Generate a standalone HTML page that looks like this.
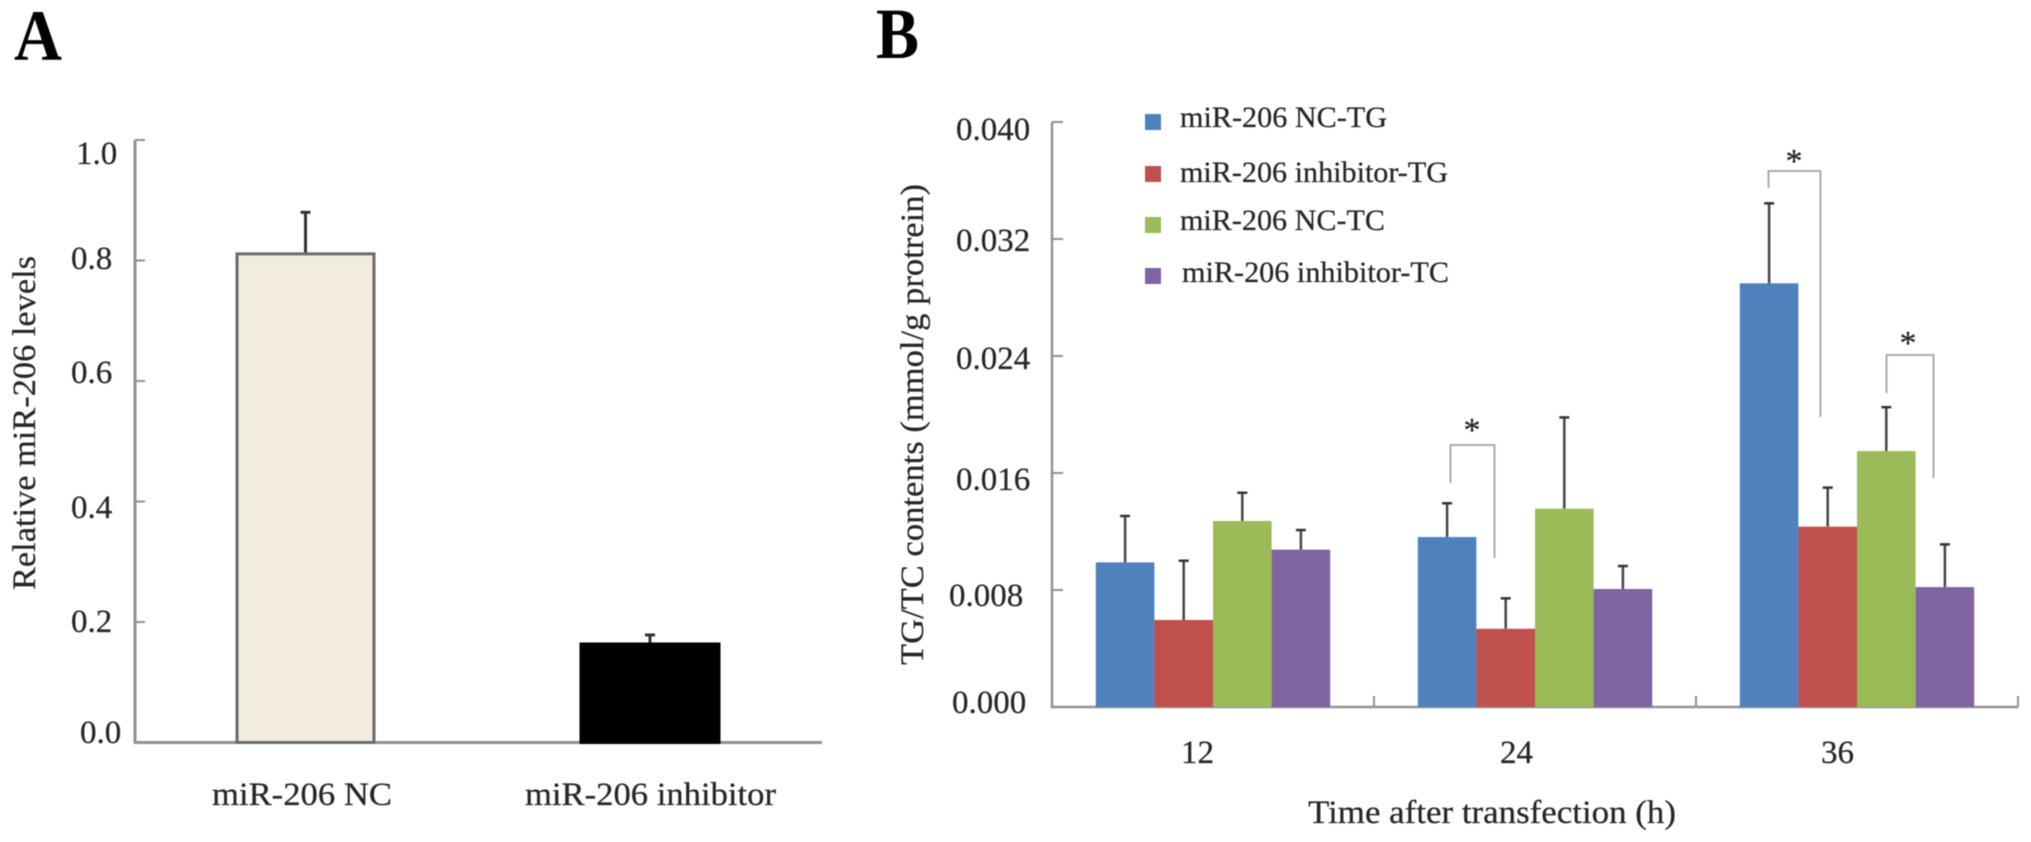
<!DOCTYPE html>
<html lang="en">
<head>
<meta charset="utf-8">
<title>miR-206 levels and TG/TC contents</title>
<style>
  html, body { margin: 0; padding: 0; background: #fff; }
  body { width: 2031px; height: 842px; overflow: hidden; }
  svg { display: block; }
  text { font-family: "Liberation Serif", serif; font-size: 33px; fill: #262626; stroke: #262626; stroke-width: 0.25px; }
  .soft { filter: blur(0.45px); }
</style>
</head>
<body>
<svg id="figure" xmlns="http://www.w3.org/2000/svg" width="2031" height="842" viewBox="0 0 2031 842">
  <g class="soft">
    <text x="14" y="60" textLength="48" lengthAdjust="spacingAndGlyphs" style="font-size:72px;font-weight:bold;fill:#000;stroke:none">A</text>
    <text x="876" y="58" textLength="43" lengthAdjust="spacingAndGlyphs" style="font-size:72px;font-weight:bold;fill:#000;stroke:none">B</text>

    <text x="76" y="164">1.0</text>
    <text x="71" y="269">0.8</text>
    <text x="71" y="383">0.6</text>
    <text x="71" y="518">0.4</text>
    <text x="71" y="632">0.2</text>
    <text x="80" y="743">0.0</text>
    <text transform="translate(35,590) rotate(-90)" x="0" y="0" textLength="334" lengthAdjust="spacingAndGlyphs">Relative miR-206 levels</text>
    <text x="212" y="805" textLength="180" lengthAdjust="spacingAndGlyphs">miR-206 NC</text>
    <text x="525" y="805" textLength="251" lengthAdjust="spacingAndGlyphs">miR-206 inhibitor</text>

    <text x="956" y="140">0.040</text>
    <text x="956" y="251">0.032</text>
    <text x="956" y="369">0.024</text>
    <text x="956" y="490">0.016</text>
    <text x="949" y="606">0.008</text>
    <text x="952" y="713">0.000</text>
    <text transform="translate(923,665) rotate(-90)" x="0" y="0" textLength="481" lengthAdjust="spacingAndGlyphs">TG/TC contents (mmol/g protrein)</text>
    <text x="1181" y="763">12</text>
    <text x="1500" y="763">24</text>
    <text x="1821" y="763">36</text>
    <text x="1308" y="823" textLength="368" lengthAdjust="spacingAndGlyphs">Time after transfection (h)</text>

    <rect x="1145" y="114" width="16" height="16" fill="#4f81bd"/>
    <text x="1180" y="127" textLength="207" lengthAdjust="spacingAndGlyphs" style="font-size:30px">miR-206 NC-TG</text>
    <rect x="1145" y="166" width="16" height="16" fill="#c0504d"/>
    <text x="1180" y="182" textLength="268" lengthAdjust="spacingAndGlyphs" style="font-size:30px">miR-206 inhibitor-TG</text>
    <rect x="1145" y="217" width="16" height="16" fill="#9bbb59"/>
    <text x="1180" y="230" textLength="205" lengthAdjust="spacingAndGlyphs" style="font-size:30px">miR-206 NC-TC</text>
    <rect x="1145" y="268" width="16" height="16" fill="#8064a2"/>
    <text x="1182" y="282" textLength="267" lengthAdjust="spacingAndGlyphs" style="font-size:30px">miR-206 inhibitor-TC</text>

    <polyline points="1450.5,483 1450.5,445 1494.5,445 1494.5,558" fill="none" stroke="#ababab" stroke-width="2"/>
    <text x="1472" y="441" text-anchor="middle" style="font-size:34px">*</text>
    <polyline points="1768.5,188 1768.5,171 1820.5,171 1820.5,417" fill="none" stroke="#ababab" stroke-width="2"/>
    <text x="1794" y="172" text-anchor="middle" style="font-size:34px">*</text>
    <polyline points="1886.5,393 1886.5,355 1933.5,355 1933.5,478" fill="none" stroke="#ababab" stroke-width="2"/>
    <text x="1908" y="354" text-anchor="middle" style="font-size:34px">*</text>
  </g>
  <g id="marks" class="soft"></g>
</svg>

<script>
/* Panel A data */
const panelACategories = ['miR-206 NC', 'miR-206 inhibitor'];
const panelAValues = [0.811, 0.1635];
const panelAErrors = [0.069, 0.015];
const panelATicks = [0, 0.2, 0.4, 0.6, 0.8, 1.0];

/* Panel B data */
const panelBCategories = ['12', '24', '36'];
const ncTG = [0.00989, 0.01162, 0.02897];
const inhibitorTG = [0.00595, 0.00535, 0.01233];
const ncTC = [0.01272, 0.01356, 0.0175];
const inhibitorTC = [0.01076, 0.00807, 0.0082];
const ncTGErr = [0.00317, 0.00231, 0.00547];
const inhibitorTGErr = [0.00405, 0.00208, 0.00267];
const ncTCErr = [0.00193, 0.00624, 0.003];
const inhibitorTCErr = [0.00134, 0.00157, 0.00292];
const panelBTicks = [0, 0.008, 0.016, 0.024, 0.032, 0.04];

const marks = document.getElementById('marks');
const NS = 'http://www.w3.org/2000/svg';

function shape(tag, props) {
  const el = document.createElementNS(NS, tag);
  for (const k in props) el.setAttribute(k, props[k]);
  marks.appendChild(el);
  return el;
}
function line(x1, y1, x2, y2, stroke, width) {
  return shape('line', { x1: x1, y1: y1, x2: x2, y2: y2, stroke: stroke, 'stroke-width': width });
}

/* Axis functions */
const yA = v => 742.5 - v * 602.5;
const xA = i => 305.5 + i * 344.5;
const yB = v => 707 - v * 14625;
const xB = i => 1213 + i * 322;

const AXIS = '#929292';
const ERR = '#454545';

/* Panel A axes */
let el = line(135, yA(1), 135, yA(0) + 1, AXIS, 3);


el = line(134, yA(0), 822, yA(0), AXIS, 3);


panelATicks.forEach(function (t) {
  if (t === 0) return;
  const tick = line(135, yA(t), 145, yA(t), AXIS, 2);
  
  
});

/* Panel A bars */
const panelAFill = ['#f1ebe0', '#000000'];
const panelAStroke = ['#6b6b6b', '#000000'];
panelACategories.forEach(function (c, i) {
  const half = i === 0 ? 68.5 : 69;
  const errLine = line(xA(i), yA(panelAValues[i]), xA(i), yA(panelAValues[i] + panelAErrors[i]), '#333', 3);
  
  
  const cap = line(xA(i) - 5, yA(panelAValues[i] + panelAErrors[i]), xA(i) + 5, yA(panelAValues[i] + panelAErrors[i]), '#333', 3);
  
  
  const bar = shape('rect', {
    x: xA(i) - half, y: yA(panelAValues[i]), width: half * 2, height: yA(0) - yA(panelAValues[i]),
    fill: panelAFill[i], stroke: panelAStroke[i], 'stroke-width': 3
  });
  
  
});

/* Panel B axes */
el = line(1052, yB(0.04), 1052, yB(0) + 1, AXIS, 2.5);


el = line(1051, yB(0), 2018, yB(0), AXIS, 2.5);


panelBTicks.forEach(function (t) {
  if (t === 0) return;
  const tick = line(1052, yB(t), 1063, yB(t), AXIS, 2);
  
  
});
panelBCategories.forEach(function (c, i) {
  const divider = line(xB(i) + 161, yB(0), xB(i) + 161, yB(0) - 11, AXIS, 2);
  
  
});

/* Panel B bars */
const seriesValues = [ncTG, inhibitorTG, ncTC, inhibitorTC];
const seriesErrors = [ncTGErr, inhibitorTGErr, ncTCErr, inhibitorTCErr];
const seriesColors = ['#4f81bd', '#c0504d', '#9bbb59', '#8064a2'];
const BAR_W = 58.6;
seriesValues.forEach(function (vals, s) {
  vals.forEach(function (v, i) {
    const left = xB(i) + (s - 2) * BAR_W;
    const mid = left + BAR_W / 2;
    const top = yB(v + seriesErrors[s][i]);
    const errLine = line(mid, yB(v), mid, top, ERR, 2.5);
    
    
    const cap = line(mid - 5, top, mid + 5, top, '#333', 2.5);
    
    
    const bar = shape('rect', { x: left, y: yB(v), width: BAR_W, height: yB(0) - yB(v), fill: seriesColors[s] });
    
    
  });
});
</script>
</body>
</html>
